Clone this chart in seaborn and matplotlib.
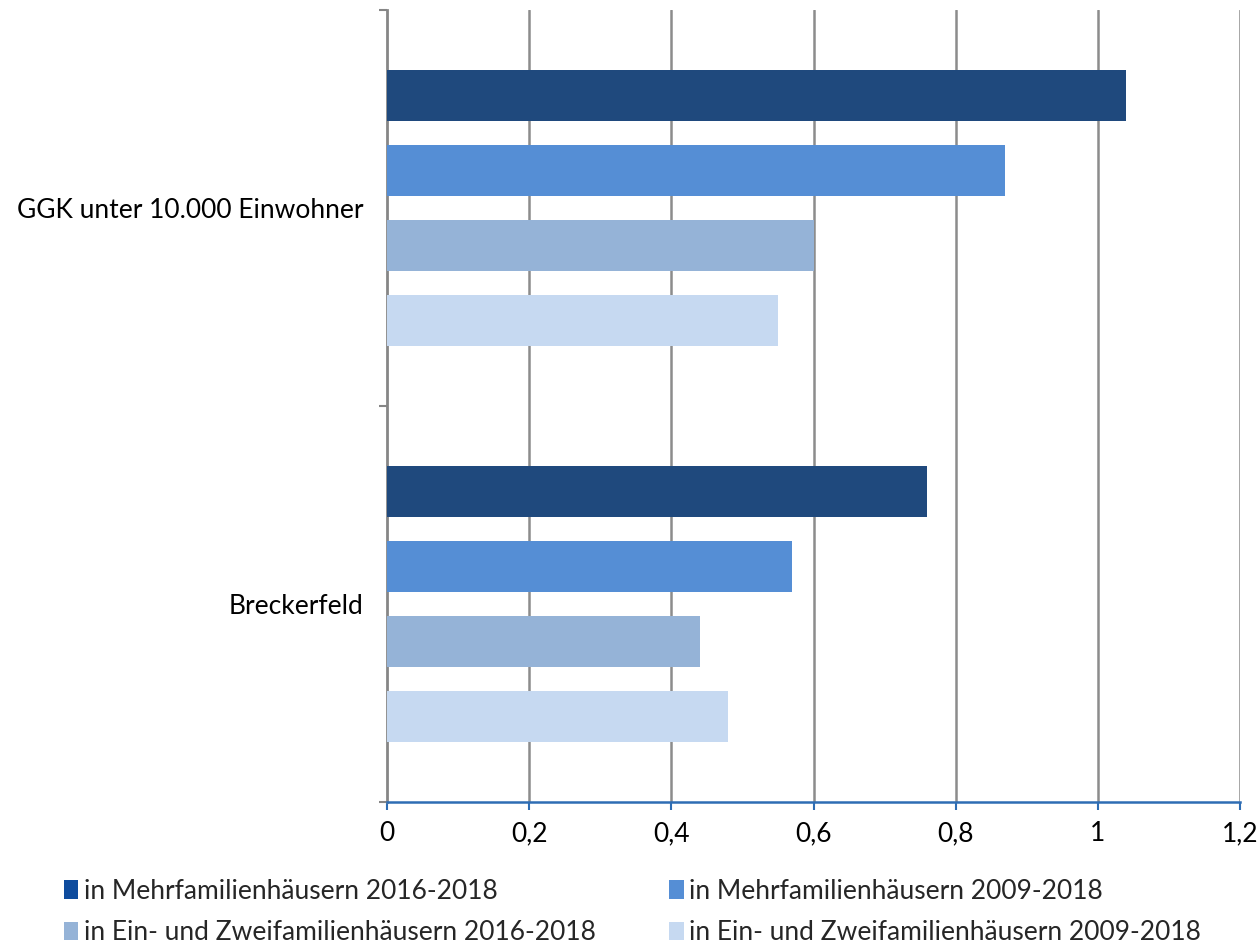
import matplotlib
matplotlib.use("Agg")
import matplotlib.pyplot as plt
import seaborn as sns
import pandas as pd
from matplotlib.patches import Patch
from matplotlib.ticker import FixedLocator

categories = ["GGK unter 10.000 Einwohner", "Breckerfeld"]
series = [
    "in Mehrfamilienhäusern 2016-2018",
    "in Mehrfamilienhäusern 2009-2018",
    "in Ein- und Zweifamilienhäusern 2016-2018",
    "in Ein- und Zweifamilienhäusern 2009-2018",
]
values_ggk = [1.04, 0.87, 0.60, 0.55]
values_breckerfeld = [0.76, 0.57, 0.44, 0.48]
colors = ["#1F497D", "#558ED5", "#95B3D7", "#C6D9F1"]
legend_colors = ["#0E4C9E", "#558ED5", "#95B3D7", "#C6D9F1"]
x_ticks = [0, 0.2, 0.4, 0.6, 0.8, 1.0, 1.2]
x_tick_labels = ["0", "0,2", "0,4", "0,6", "0,8", "1", "1,2"]

rows = []
for cat, vals in zip(categories, [values_ggk, values_breckerfeld]):
    for s, v in zip(series, vals):
        rows.append({"cat": cat, "series": s, "value": v})
df = pd.DataFrame(rows)

sns.set_theme(style="white")
plt.rcParams["font.family"] = ["Lato", "DejaVu Sans"]
FS = 19

fig = plt.figure(figsize=(12.59, 9.46), dpi=100)
ax = fig.add_axes([387 / 1259, 1 - 802 / 946, (1240 - 387) / 1259, (802 - 10) / 946])

sns.barplot(data=df, y="cat", x="value", hue="series", order=categories,
            hue_order=series, palette=colors, orient="h", width=0.76, gap=0.32,
            saturation=1, ax=ax, legend=False, edgecolor="none", zorder=3)

ax.set_xlim(0, 1.2)
ax.set_ylim(1.5, -0.5)
ax.set_xticks(x_ticks)
ax.set_xticklabels(x_tick_labels, fontsize=FS, color="#000000")
ax.set_yticks([0, 1])
ax.set_yticklabels(categories, fontsize=FS, color="#000000")
ax.yaxis.set_minor_locator(FixedLocator([-0.5, 0.5, 1.5]))
ax.tick_params(axis="y", which="major", length=0, pad=17)
ax.tick_params(axis="y", which="minor", length=6, color="#868686", width=1.5, left=True)
ax.tick_params(axis="x", which="major", length=6, color="#2E6DB4", width=1.5, bottom=True, pad=8)
ax.set_xlabel("")
ax.set_ylabel("")

for x in x_ticks[1:]:
    ax.axvline(x, color="#8C8C8C", lw=1.8, zorder=1)

for side in ["top", "right"]:
    ax.spines[side].set_visible(False)
ax.spines["left"].set_color("#868686")
ax.spines["left"].set_linewidth(2)
ax.spines["bottom"].set_color("#2E6DB4")
ax.spines["bottom"].set_linewidth(1.8)
ax.spines["bottom"].set_zorder(5)

handles = [Patch(facecolor=c, edgecolor="none") for c in legend_colors]
order = [0, 2, 1, 3]
fig.legend([handles[i] for i in order], [series[i] for i in order],
           loc="upper left", bbox_to_anchor=(40 / 1259, 1 - 855 / 946),
           ncol=2, frameon=False, fontsize=FS, handlelength=0.55, handleheight=0.7,
           handletextpad=0.2, columnspacing=2.8, labelspacing=0.62)

fig.savefig("out.png", dpi=100, facecolor="white")
